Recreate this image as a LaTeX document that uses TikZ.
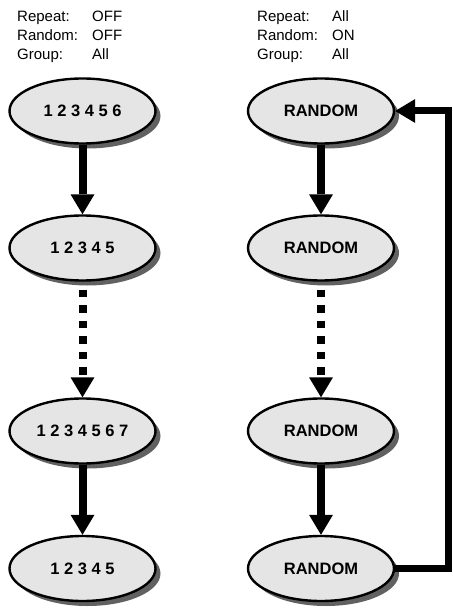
\documentclass[tikz,border=0pt]{standalone}
\usepackage{fontspec}
\setmainfont{Liberation Sans}
\usetikzlibrary{shapes.geometric,shadows,arrows.meta}
\tikzset{
  state/.style={ellipse, draw=black, line width=2.4pt, fill=black!10,
    minimum width=146pt, minimum height=65pt, inner sep=0pt,
    font=\fontsize{16.5pt}{18pt}\selectfont\bfseries,
    drop shadow={shadow xshift=5pt, shadow yshift=-5pt, fill=black!62, opacity=1}},
  hdr/.style={anchor=base west, inner sep=0pt, font=\fontsize{15pt}{17pt}\selectfont},
  flow/.style={line width=8pt, -{Triangle[width=24pt,length=20pt,line width=0pt]}},
  flowdots/.style={flow, dash pattern=on 7.5pt off 8pt, dash phase=7.5pt},
  back/.style={line width=7pt, -{Triangle[width=24pt,length=20pt,line width=0pt]}}
}
\begin{document}
\begin{tikzpicture}[x=1pt,y=-1pt]
\useasboundingbox (0,0) rectangle (452,609);
% headers
\node[hdr] (h1a) at (17,22) {Repeat:};
\node[hdr] (h1b) at (92,22) {OFF};
\node[hdr] (h2a) at (17,41) {Random:};
\node[hdr] (h2b) at (92,41) {OFF};
\node[hdr] (h3a) at (17,60) {Group:};
\node[hdr] (h3b) at (92,60) {All};
\node[hdr] (k1a) at (257,22) {Repeat:};
\node[hdr] (k1b) at (332,22) {All};
\node[hdr] (k2a) at (257,41) {Random:};
\node[hdr] (k2b) at (332,41) {ON};
\node[hdr] (k3a) at (257,60) {Group:};
\node[hdr] (k3b) at (332,60) {All};
% left column
\node[state] (l1) at (82.5,111) {1 2 3 4 5 6};
\node[state] (l2) at (82.5,248) {1 2 3 4 5};
\node[state] (l3) at (82.5,431) {1 2 3 4 5 6 7};
\node[state] (l4) at (82.5,568.5) {1 2 3 4 5};
% right column
\node[state] (r1) at (321,111) {RANDOM};
\node[state] (r2) at (321,248) {RANDOM};
\node[state] (r3) at (321,431) {RANDOM};
\node[state] (r4) at (321,568.5) {RANDOM};
% connectors
\draw[flow] (l1) -- (l2);
\draw[flowdots] (l2) -- (l3);
\draw[flow] (l3) -- (l4);
\draw[flow] (r1) -- (r2);
\draw[flowdots] (r2) -- (r3);
\draw[flow] (r3) -- (r4);
\coordinate (corner) at (448.5,568.5);
\draw[back] (r4.east) -- (corner) |- (r1.east);
\end{tikzpicture}
\end{document}
